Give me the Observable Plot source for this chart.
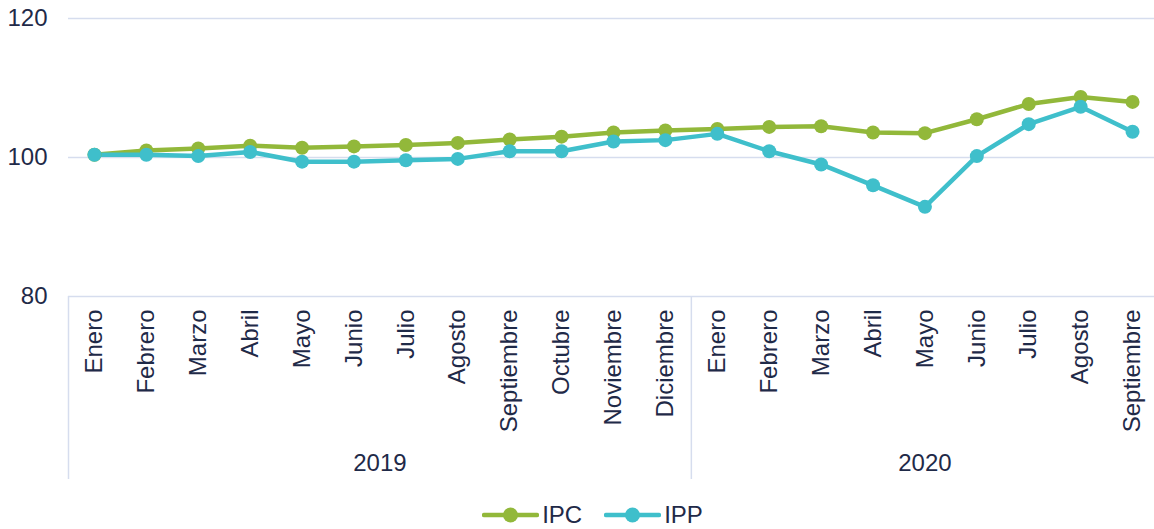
<!DOCTYPE html>
<html>
<head>
<meta charset="utf-8">
<script src="https://cdn.jsdelivr.net/npm/d3@7"></script>
<script src="https://cdn.jsdelivr.net/npm/@observablehq/plot@0.6"></script>
<style>
  html, body { margin: 0; padding: 0; background: #fff; }
  body { width: 1154px; height: 529px; overflow: hidden; font-family: "Liberation Sans", Arial, sans-serif; }
  #chart svg { display: block; }
  #legend { display: flex; justify-content: center; align-items: center; height: 45px; gap: 22px; padding-left: 31px; }
  .item { display: flex; align-items: center; font-size: 24px; color: #1f2a48; }
  .item svg { margin-right: 3px; }
</style>
</head>
<body>
<div id="chart"></div>
<div id="legend"></div>
<script>
const months = ["Enero","Febrero","Marzo","Abril","Mayo","Junio","Julio","Agosto","Septiembre","Octubre","Noviembre","Diciembre",
                "Enero","Febrero","Marzo","Abril","Mayo","Junio","Julio","Agosto","Septiembre"];
const years  = [2019,2019,2019,2019,2019,2019,2019,2019,2019,2019,2019,2019,
                2020,2020,2020,2020,2020,2020,2020,2020,2020];
const ipc = [100.4,101.0,101.3,101.7,101.4,101.6,101.8,102.1,102.6,103.0,103.6,103.9,
             104.1,104.4,104.5,103.6,103.5,105.5,107.7,108.7,108.0];
const ipp = [100.4,100.4,100.2,100.8,99.4,99.4,99.6,99.8,100.9,100.9,102.3,102.5,
             103.4,100.9,99.0,96.0,92.9,100.2,104.8,107.3,103.7];
const yTicks = [80, 100, 120];
const seriesNames = ["IPC", "IPP"];
const seriesColors = ["#92b83a", "#3fbfcb"];

const rows = [];
seriesNames.forEach((s, k) => {
  const vals = k === 0 ? ipc : ipp;
  vals.forEach((v, i) => rows.push({series: s, i, value: v}));
});
const ticks = months.map((m, i) => ({i, m}));
const yearList = Array.from(new Set(years));
const yearGroups = yearList.map(y => {
  const idx = years.map((yy, i) => yy === y ? i : -1).filter(i => i >= 0);
  return {year: y, start: idx[0] - 0.5, center: (idx[0] + idx[idx.length - 1]) / 2};
});

const textColor = "#1f2a48";
const gridColor = "#d6ddee";

const chart = Plot.plot({
  width: 1154,
  height: 492,
  marginTop: 18,
  marginBottom: 196,
  marginLeft: 68,
  marginRight: 0,
  style: {fontFamily: "'Liberation Sans', Arial, sans-serif", color: textColor, background: "#fff"},
  x: {type: "linear", domain: [-0.5, months.length - 0.5], range: [68, 1158], axis: null},
  y: {domain: [80, 120], axis: null},
  color: {domain: seriesNames, range: seriesColors},
  marks: [
    Plot.gridY(yTicks, {stroke: gridColor, strokeOpacity: 1, strokeWidth: 1.5}),
    Plot.axisY(yTicks, {tickSize: 0, tickPadding: 21, fontSize: 24, fill: textColor, label: null}),
    Plot.ruleX(yearGroups, {x: "start", y1: 80, y2: 80, insetBottom: -183, stroke: gridColor, strokeWidth: 1.5}),
    Plot.text(ticks, {x: "i", y: 80, text: "m", rotate: -90, textAnchor: "end", dy: 13, fontSize: 24, fill: textColor}),
    Plot.text(yearGroups, {x: "center", y: 80, text: d => String(d.year), dy: 167, fontSize: 24, fill: textColor}),
    Plot.line(rows, {x: "i", y: "value", z: "series", stroke: "series", strokeWidth: 4.5, curve: "linear"}),
    Plot.dot(rows, {x: "i", y: "value", fill: "series", r: 7, stroke: "none"})
  ]
});
document.getElementById("chart").appendChild(chart);

const legend = document.getElementById("legend");
seriesNames.forEach((s, k) => {
  const item = document.createElement("div");
  item.className = "item";
  item.innerHTML = `<svg width="57" height="16"><line x1="2" y1="8" x2="55" y2="8" stroke="${seriesColors[k]}" stroke-width="4.5" stroke-linecap="round"/><circle cx="28.5" cy="8" r="7.5" fill="${seriesColors[k]}"/></svg><span>${s}</span>`;
  legend.appendChild(item);
});
</script>
</body>
</html>
